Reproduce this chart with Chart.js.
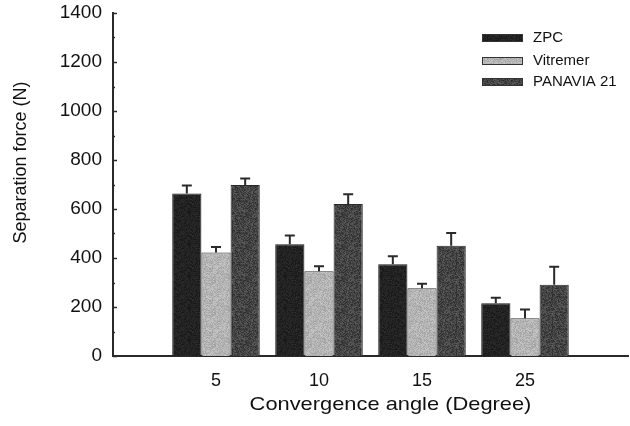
<!DOCTYPE html>
<html>
<head>
<meta charset="utf-8">
<script src="https://cdn.jsdelivr.net/npm/chart.js@4.4.0/dist/chart.umd.min.js"></script>
<style>
html,body{margin:0;padding:0;background:#fff;}
#wrap{width:630px;height:426px;}
</style>
</head>
<body>
<div id="wrap"><canvas id="c" width="630" height="426"></canvas></div>
<script>
const categories = ['5', '10', '15', '25'];
const seriesNames = ['ZPC', 'Vitremer', 'PANAVIA 21'];
const zpcValues = [663, 456, 375, 215];
const zpcErrors = [33, 36, 32, 23];
const vitremerValues = [422, 346, 277, 154];
const vitremerErrors = [23, 20, 18, 36];
const panaviaValues = [698, 620, 450, 291];
const panaviaErrors = [27, 40, 52, 73];
const yTicks = [0, 200, 400, 600, 800, 1000, 1200, 1400];
const xTitle = 'Convergence angle (Degree)';
const yTitle = 'Separation force (N)';

const FONT = "'Liberation Sans', Arial, Helvetica, sans-serif";
const pad = a => [null, ...a, null];
const labels = ['', ...categories, ''];

// speckled fill texture (purely decorative)
function speckle(base, spread, seed) {
  const c = document.createElement('canvas');
  c.width = 32; c.height = 32;
  const g = c.getContext('2d');
  let s = seed;
  const rnd = () => { s = (s * 1103515245 + 12345) & 0x7fffffff; return s / 0x7fffffff; };
  const img = g.createImageData(32, 32);
  for (let i = 0; i < 32 * 32; i++) {
    const v = Math.max(0, Math.min(255, base + (rnd() - 0.5) * spread));
    img.data[i * 4] = v; img.data[i * 4 + 1] = v; img.data[i * 4 + 2] = v; img.data[i * 4 + 3] = 255;
  }
  g.putImageData(img, 0, 0);
  return g.createPattern(c, 'repeat');
}
const fillZpc = speckle(34, 22, 7);
const fillVit = speckle(180, 40, 11);
const fillPan = speckle(68, 50, 23);

const errorBarPlugin = {
  id: 'errorBars',
  afterDatasetsDraw(chart) {
    const ctx = chart.ctx;
    const y = chart.scales.y;
    chart.data.datasets.forEach((ds, di) => {
      const meta = chart.getDatasetMeta(di);
      meta.data.forEach((bar, i) => {
        const v = ds.data[i];
        const e = ds.errors[i];
        if (v == null || e == null) return;
        const top = y.getPixelForValue(v + e);
        const base = y.getPixelForValue(v);
        ctx.save();
        ctx.strokeStyle = '#2a2a2a';
        ctx.lineWidth = 2;
        ctx.beginPath();
        ctx.moveTo(bar.x, base);
        ctx.lineTo(bar.x, top);
        ctx.moveTo(bar.x - 5, top);
        ctx.lineTo(bar.x + 5, top);
        ctx.stroke();
        ctx.restore();
      });
    });
  }
};

const yTickPlugin = {
  id: 'yInsideTicks',
  afterDraw(chart) {
    const ctx = chart.ctx;
    const y = chart.scales.y;
    const x0 = chart.chartArea.left;
    ctx.save();
    ctx.strokeStyle = '#2a2a2a';
    ctx.lineWidth = 1.5;
    for (let v = 0; v <= 1400; v += 100) {
      const py = Math.round(y.getPixelForValue(v)) + 0.5;
      const len = (v % 200 === 0) ? 4 : 2;
      ctx.beginPath();
      ctx.moveTo(x0, py);
      ctx.lineTo(x0 + len, py);
      ctx.stroke();
    }
    ctx.restore();
  }
};

const axisTitlePlugin = {
  id: 'axisTitles',
  afterDraw(chart) {
    const ctx = chart.ctx;
    const a = chart.chartArea;
    ctx.save();
    ctx.fillStyle = '#111';
    ctx.textAlign = 'center';
    ctx.textBaseline = 'middle';
    ctx.save();
    ctx.translate((a.left + a.right) / 2 + 20, a.bottom + 49);
    ctx.scale(1.15, 1);
    ctx.font = '19px ' + FONT;
    ctx.fillText(xTitle, 0, 0);
    ctx.restore();
    ctx.save();
    ctx.translate(21, (a.top + a.bottom) / 2 - 22);
    ctx.rotate(-Math.PI / 2);
    ctx.font = '18px ' + FONT;
    ctx.fillText(yTitle, 0, 0);
    ctx.restore();
    ctx.restore();
  }
};

const legendPlugin = {
  id: 'insideLegend',
  afterDraw(chart) {
    const ctx = chart.ctx;
    ctx.save();
    ctx.font = '15px ' + FONT;
    ctx.textBaseline = 'middle';
    const rows = [38, 61, 82];
    chart.data.datasets.forEach((ds, i) => {
      const yy = rows[i];
      ctx.fillStyle = ds.backgroundColor;
      ctx.fillRect(482, yy - 4, 41, 8);
      ctx.strokeStyle = '#333';
      ctx.lineWidth = 1;
      ctx.strokeRect(482.5, yy - 3.5, 40, 7);
      ctx.fillStyle = '#111';
      ctx.fillText(ds.label, 533, yy);
    });
    ctx.restore();
  }
};

new Chart(document.getElementById('c'), {
  type: 'bar',
  data: {
    labels: labels,
    datasets: [
      { label: seriesNames[0], data: pad(zpcValues), errors: pad(zpcErrors), backgroundColor: fillZpc, borderColor: '#1a1a1a', borderWidth: 1 },
      { label: seriesNames[1], data: pad(vitremerValues), errors: pad(vitremerErrors), backgroundColor: fillVit, borderColor: '#333', borderWidth: 1 },
      { label: seriesNames[2], data: pad(panaviaValues), errors: pad(panaviaErrors), backgroundColor: fillPan, borderColor: '#2a2a2a', borderWidth: 1 }
    ]
  },
  options: {
    responsive: false,
    animation: false,
    devicePixelRatio: 1,
    layout: { padding: { top: 13, right: 2, left: 0, bottom: 0 } },
    datasets: { bar: { categoryPercentage: 0.85, barPercentage: 1.0 } },
    plugins: { legend: { display: false }, tooltip: { enabled: false } },
    scales: {
      x: {
        offset: false,
        grid: { display: false, drawTicks: false },
        border: { display: true, color: '#2a2a2a', width: 2 },
        ticks: { autoSkip: false, maxRotation: 0, color: '#111', font: { family: FONT, size: 18 }, padding: 14 },
        title: { display: false },
        afterFit(s) { s.height = 70; s.paddingLeft = 0; s.paddingRight = 0; }
      },
      y: {
        min: 0, max: 1400,
        afterBuildTicks(s) { s.ticks = yTicks.map(v => ({ value: v })); },
        grid: { display: false, drawTicks: false },
        border: { display: true, color: '#2a2a2a', width: 2 },
        ticks: { color: '#111', font: { family: FONT, size: 19 }, padding: 11, callback: v => String(v) },
        title: { display: false },
        afterFit(s) { s.width = 113; s.paddingTop = 0; s.paddingBottom = 0; }
      }
    }
  },
  plugins: [errorBarPlugin, yTickPlugin, axisTitlePlugin, legendPlugin]
});
</script>
</body>
</html>
